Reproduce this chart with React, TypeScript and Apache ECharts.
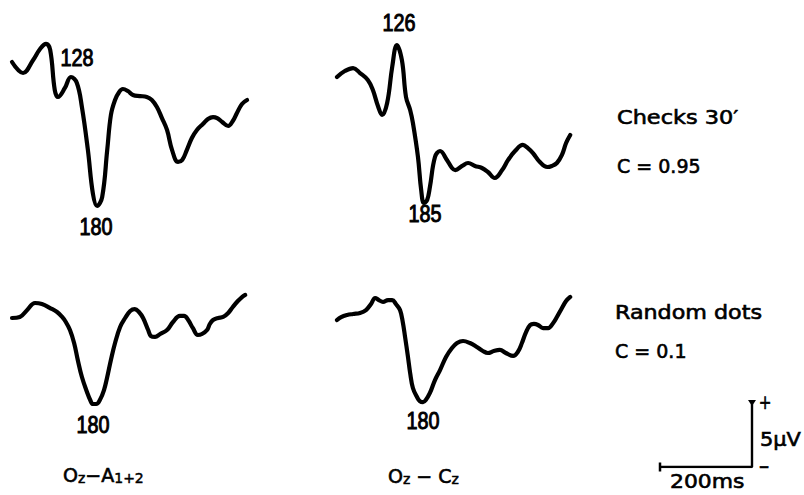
import React, { useEffect, useRef } from "react";
import * as echarts from "echarts";

// Latency (ms) and amplitude (µV, positive up) of the four evoked potentials
const timesChecksA = [0, 24, 46, 61, 74, 83, 93, 100, 115, 128, 141, 152, 165, 176, 185, 196, 207, 215, 224, 233, 241, 252, 263, 278, 293, 304, 315, 326, 337, 348, 361, 370, 380, 391, 402, 415, 426, 437, 446, 457, 470, 480, 489, 500, 511];
const valuesChecksA = [0, -0.86, 0.16, 1.02, 1.41, 0.94, -2.19, -2.73, -2.03, -1.17, -1.64, -3.52, -6.88, -10.31, -11.25, -10.55, -6.88, -4.14, -2.97, -2.34, -2.11, -2.27, -2.58, -2.66, -2.73, -2.97, -3.52, -4.38, -5.31, -6.88, -7.81, -7.66, -6.88, -5.94, -5.31, -4.84, -4.45, -4.3, -4.38, -4.69, -5.0, -4.61, -3.98, -3.28, -2.97];

const timesChecksC = [0, 17, 35, 50, 67, 78, 89, 98, 109, 120, 130, 141, 150, 159, 165, 176, 183, 189, 196, 202, 213, 224, 239, 250, 257, 272, 285, 300, 315, 328, 343, 359, 372, 387, 404, 415, 426, 441, 457, 467, 478, 489, 498, 507];
const valuesChecksC = [0, 0.47, 0.7, 0.31, -0.23, -1.02, -2.27, -2.97, -2.03, 0.78, 2.5, 1.33, -1.56, -2.58, -3.59, -6.25, -8.83, -9.84, -9.61, -8.59, -6.25, -5.78, -6.48, -7.11, -7.27, -6.95, -6.72, -6.95, -7.11, -7.42, -7.89, -7.27, -6.48, -5.78, -5.31, -5.55, -5.94, -6.64, -7.03, -6.95, -6.72, -6.09, -5.16, -4.53];

const timesDotsA = [0, 17, 33, 50, 65, 83, 98, 109, 117, 126, 135, 143, 152, 163, 170, 176, 183, 191, 200, 207, 215, 224, 235, 246, 257, 267, 276, 285, 296, 302, 311, 322, 337, 350, 365, 374, 383, 393, 404, 413, 424, 430, 437, 448, 459, 470, 480, 491, 500, 507];
const valuesDotsA = [0, 0.08, 0.63, 1.17, 1.09, 0.78, 0.47, 0.08, -0.31, -0.94, -1.95, -3.28, -4.61, -5.78, -6.41, -6.72, -6.72, -6.41, -5.63, -4.61, -3.28, -1.95, -0.7, 0, 0.55, 0.7, 0.47, 0, -0.94, -1.41, -1.48, -1.25, -0.94, -0.31, 0.16, 0.16, -0.16, -0.78, -1.33, -1.25, -0.94, -0.47, -0.16, 0, 0.08, 0.39, 0.86, 1.33, 1.64, 1.8];

const timesDotsC = [0, 9, 22, 35, 50, 63, 74, 83, 91, 100, 111, 120, 128, 137, 143, 148, 154, 159, 165, 174, 180, 187, 193, 202, 213, 224, 237, 250, 261, 274, 289, 304, 317, 328, 341, 354, 367, 383, 393, 402, 411, 420, 428, 437, 448, 459, 470, 478, 489, 498, 507];
const valuesDotsC = [0, 0.23, 0.39, 0.47, 0.55, 0.78, 1.25, 1.72, 1.56, 1.41, 1.56, 1.56, 1.25, 0.78, -0.16, -1.33, -2.81, -4.14, -5.31, -6.02, -6.33, -6.41, -6.25, -5.7, -4.69, -3.91, -2.89, -2.19, -1.8, -1.64, -1.8, -2.11, -2.42, -2.58, -2.42, -2.34, -2.58, -2.81, -2.5, -1.8, -0.94, -0.39, -0.31, -0.39, -0.63, -0.63, -0.23, 0.23, 0.94, 1.48, 1.8];

// Calibration bar: 200 ms horizontal, 5 µV vertical
const scaleTimes = [0, 200, 200];
const scaleVolts = [0, 0, 5];

// Peak latency labels
const latencyLabels = ["128", "180", "126", "185", "180", "180"];
const conditionTitles = ["Checks 30\u2032", "Random dots"];
const correlationLabels = ["C = 0.95", "C = 0.1"];

const PX_PER_MS = 0.46;
const PX_PER_UV = 12.8;
const T_MAX = 520;
const V_MIN = -12;
const V_MAX = 4;

const traceGrid = (left: number, zeroY: number) => ({
  left,
  top: zeroY - V_MAX * PX_PER_UV,
  width: T_MAX * PX_PER_MS,
  height: (V_MAX - V_MIN) * PX_PER_UV,
});

const NUM_FONT = "Liberation Sans";
const TXT_FONT = "DejaVu Sans";

export default function App() {
  const ref = useRef<HTMLDivElement>(null);

  useEffect(() => {
    document.body.style.margin = "0";
    if (!ref.current) return;
    const chart = echarts.init(ref.current, undefined, { renderer: "svg" });

    const traces = [
      { t: timesChecksA, v: valuesChecksA },
      { t: timesChecksC, v: valuesChecksC },
      { t: timesDotsA, v: valuesDotsA },
      { t: timesDotsC, v: valuesDotsC },
    ];
    const grids = [
      traceGrid(12, 62),
      traceGrid(337, 77),
      traceGrid(12, 318),
      traceGrid(337, 320),
      { left: 660, top: 403, width: 200 * PX_PER_MS, height: 5 * PX_PER_UV },
    ];

    const xAxes: any[] = grids.map((_, i) => ({
      type: "value",
      gridIndex: i,
      min: 0,
      max: i < 4 ? T_MAX : 200,
      show: false,
    }));
    const yAxes: any[] = grids.map((_, i) => ({
      type: "value",
      gridIndex: i,
      min: i < 4 ? V_MIN : 0,
      max: i < 4 ? V_MAX : 5,
      show: false,
    }));

    const series: any[] = traces.map((tr, i) => ({
      type: "line",
      xAxisIndex: i,
      yAxisIndex: i,
      data: tr.t.map((t, k) => [t, tr.v[k]]),
      symbol: "none",
      smooth: 0.4,
      lineStyle: { color: "#000", width: 4.2, cap: "round", join: "round" },
      silent: true,
    }));

    series.push({
      type: "line",
      xAxisIndex: 4,
      yAxisIndex: 4,
      showSymbol: true,
      data: scaleTimes.map((t, k) => {
        const item: any = { value: [t, scaleVolts[k]], symbol: "none" };
        if (k === 0) {
          item.symbol = "rect";
          item.symbolSize = [2.5, 9];
        }
        if (k === scaleTimes.length - 1) {
          item.symbol = "triangle";
          item.symbolSize = [8, 6];
          item.symbolRotate = 180;
        }
        return item;
      }),
      lineStyle: { color: "#000", width: 2.4 },
      itemStyle: { color: "#000" },
      silent: true,
    });

    const num = (text: string, x: number, y: number) => ({
      type: "text",
      x,
      y,
      scaleX: 0.86,
      style: {
        text,
        fontFamily: NUM_FONT,
        fontWeight: "normal",
        fontSize: 23,
        fill: "#000",
        stroke: "#000",
        lineWidth: 1,
        textAlign: "center",
        textVerticalAlign: "middle",
      },
    });
    const txt = (text: string, x: number, y: number, scaleX = 1, align = "left") => ({
      type: "text",
      x,
      y,
      scaleX,
      style: {
        text,
        fontFamily: TXT_FONT,
        fontSize: 19,
        fill: "#000",
        stroke: "#000",
        lineWidth: 0.6,
        textAlign: align,
        textVerticalAlign: "middle",
      },
    });
    const sub = (parts: string) => ({
      type: "text",
      x: 0,
      y: 0,
      style: {
        text: parts,
        fill: "#000",
        textAlign: "left",
        textVerticalAlign: "middle",
        rich: {
          b: { fontFamily: TXT_FONT, fontSize: 19, lineHeight: 20, fill: "#000", stroke: "#000", lineWidth: 0.6, verticalAlign: "middle" },
          s: { fontFamily: TXT_FONT, fontSize: 14, lineHeight: 14, fill: "#000", stroke: "#000", lineWidth: 0.5, verticalAlign: "bottom" },
        },
      },
    });

    const graphic: any[] = [
      num(latencyLabels[0], 77, 58),
      num(latencyLabels[1], 96, 227),
      num(latencyLabels[2], 399, 23),
      num(latencyLabels[3], 425, 214),
      num(latencyLabels[4], 93, 425),
      num(latencyLabels[5], 423, 421),
      txt(conditionTitles[0], 617, 118, 1.18),
      txt(correlationLabels[0], 617, 166),
      txt(conditionTitles[1], 615, 313, 1.17),
      txt(correlationLabels[1], 615, 351),
      { ...sub("{b|O}{s|z}{b|\u2212A}{s|1+2}"), x: 63, y: 475 },
      { ...sub("{b|O}{s|z}{b| \u2212 C}{s|z}"), x: 388, y: 476 },
      txt("5\u00b5V", 760, 439, 1.1),
      txt("200ms", 670, 482, 1.15),
      txt("+", 765, 402, 0.8, "center"),
      txt("\u2212", 764, 467, 0.7, "center"),
    ];

    chart.setOption({
      animation: false,
      backgroundColor: "#fff",
      grid: grids,
      xAxis: xAxes,
      yAxis: yAxes,
      series,
      graphic,
    });

    return () => chart.dispose();
  }, []);

  return <div ref={ref} style={{ width: 804, height: 495 }} />;
}
